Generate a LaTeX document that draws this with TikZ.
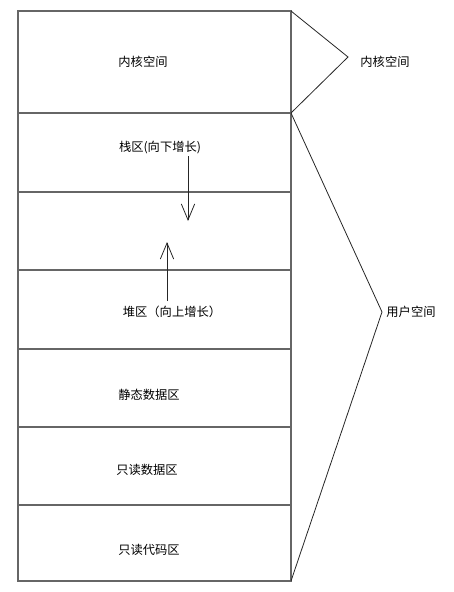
\documentclass[tikz,border=0pt]{standalone}
\usepackage{fontspec}
\setmainfont{Noto Sans CJK SC}
\usetikzlibrary{arrows.meta}
\begin{document}
\begin{tikzpicture}[x=0.75pt,y=-0.75pt,
  region/.style={draw=black!60,line width=1.2pt},
  brace/.style={draw=black!85,line width=0.6pt},
  lbl/.style={font=\fontsize{9.2}{11}\selectfont,inner sep=0pt,text=black},
  growarrow/.style={draw=black!85,line width=0.6pt,-{Straight Barb[length=12pt,width=10pt,line width=0.6pt]}}]
\useasboundingbox (0,0) rectangle (453,592);
% regions
\draw[region] (18,11) rectangle (291,581);
\foreach \yy in {113,192,270,349,427,505} \draw[region] (18,\yy) -- (291,\yy);
% labels in boxes
\node[lbl] (kern) at (143,62) {内核空间};
\node[lbl] (stack) at (160,148) {栈区(向下增长)};
\node[lbl] (heap) at (172,312) {堆区（向上增长）};
\node[lbl] (static) at (149,395) {静态数据区};
\node[lbl] (ro) at (147,470) {只读数据区};
\node[lbl] (code) at (149,550) {只读代码区};
% arrows
\coordinate (sa) at (188,156);
\coordinate (sb) at (188,221);
\coordinate (ha) at (167,301);
\coordinate (hb) at (167,242);
\draw[growarrow] (sa) -- (sb);
\draw[growarrow] (ha) -- (hb);
% braces
\coordinate (k1) at (291,11);
\coordinate (k2) at (348,57);
\coordinate (k3) at (291,113);
\coordinate (u2) at (382,312);
\coordinate (u3) at (291,581);
\draw[brace] (k1) -- (k2) -- (k3) -- (u2) -- (u3);
\node[lbl] (kernlbl) at (385,62) {内核空间};
\node[lbl] (userlbl) at (411,312) {用户空间};
\end{tikzpicture}
\end{document}
